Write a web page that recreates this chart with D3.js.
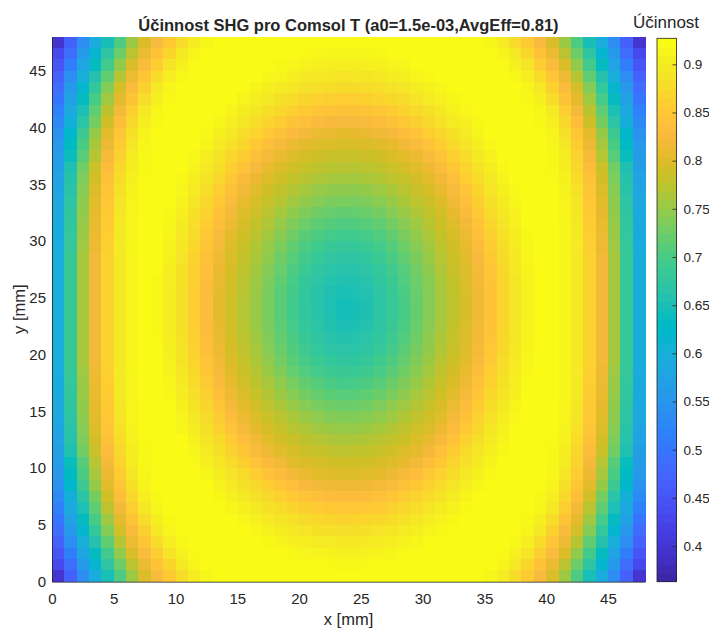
<!DOCTYPE html>
<html><head><meta charset="utf-8">
<script src="https://cdn.jsdelivr.net/npm/d3@7"></script>
<style>body{margin:0;background:#fff}svg text{font-family:'Liberation Sans',Arial,Helvetica,sans-serif;fill:#262626}</style>
</head><body>
<svg id="chart" width="709" height="630"></svg>
<script>
// ---- data (1 mm cells) ----
const titleText = "Účinnost SHG pro Comsol T (a0=1.5e-03,AvgEff=0.81)";
const xLabel = "x [mm]";
const yLabel = "y [mm]";
const cbLabel = "Účinnost";
const xCenters = [0.5,1.5,2.5,3.5,4.5,5.5,6.5,7.5,8.5,9.5,10.5,11.5,12.5,13.5,14.5,15.5,16.5,17.5,18.5,19.5,20.5,21.5,22.5,23.5,24.5,25.5,26.5,27.5,28.5,29.5,30.5,31.5,32.5,33.5,34.5,35.5,36.5,37.5,38.5,39.5,40.5,41.5,42.5,43.5,44.5,45.5,46.5,47.5];
const yCenters = [47.5,46.5,45.5,44.5,43.5,42.5,41.5,40.5,39.5,38.5,37.5,36.5,35.5,34.5,33.5,32.5,31.5,30.5,29.5,28.5,27.5,26.5,25.5,24.5,23.5,22.5,21.5,20.5,19.5,18.5,17.5,16.5,15.5,14.5,13.5,12.5,11.5,10.5,9.5,8.5,7.5,6.5,5.5,4.5,3.5,2.5,1.5,0.5];
const cellSize = 1;
const effRows = [
[.395,.467,.535,.594,.649,.705,.756,.801,.83,.857,.883,.905,.92,.925, .925,.925,.925,.925,.925,.925,.925,.925,.925,.925,.925,.925,.925,.925,.925,.925,.925,.925,.925,.925, .925,.92,.905,.883,.857,.83,.801,.756,.705,.649,.594,.535,.467,.395],
[.428,.487,.558,.614,.672,.727,.776,.815,.846,.873,.90,.917,.925,.925, .925,.925,.925,.925,.925,.925,.924,.921,.920,.919,.919,.920,.922,.925,.925,.925,.925,.925,.925,.925, .925,.925,.917,.90,.873,.846,.815,.776,.727,.672,.614,.558,.487,.428],
[.448,.509,.578,.636,.696,.75,.80,.832,.863,.892,.912,.924,.925,.925, .925,.925,.925,.925,.923,.918,.914,.910,.908,.907,.907,.909,.911,.915,.920,.925,.925,.925,.925,.925, .925,.925,.924,.912,.892,.863,.832,.80,.75,.696,.636,.578,.509,.448],
[.468,.534,.598,.659,.719,.773,.817,.851,.882,.907,.922,.925,.925,.925, .925,.925,.925,.919,.915,.907,.902,.898,.895,.894,.895,.896,.900,.904,.909,.915,.922,.925,.925,.925, .925,.925,.925,.922,.907,.882,.851,.817,.773,.719,.659,.598,.534,.468],
[.484,.555,.617,.68,.74,.794,.832,.867,.899,.918,.925,.925,.925,.925, .925,.925,.917,.909,.901,.895,.889,.885,.882,.881,.881,.883,.886,.891,.897,.904,.912,.920,.925,.925, .925,.925,.925,.925,.918,.899,.867,.832,.794,.74,.68,.617,.555,.484],
[.497,.571,.635,.70,.758,.81,.848,.883,.909,.923,.925,.925,.925,.925, .925,.916,.906,.898,.889,.882,.874,.868,.864,.863,.863,.866,.871,.877,.884,.892,.901,.910,.920,.925, .925,.925,.925,.925,.923,.909,.883,.848,.81,.758,.70,.635,.571,.497],
[.514,.587,.652,.717,.776,.823,.863,.898,.919,.925,.925,.925,.925,.925, .916,.906,.896,.885,.875,.865,.857,.851,.846,.844,.845,.848,.853,.860,.869,.880,.889,.900,.910,.921, .925,.925,.925,.925,.925,.919,.898,.863,.823,.776,.717,.652,.587,.514],
[.529,.601,.667,.732,.791,.837,.877,.907,.922,.925,.925,.925,.925,.919, .907,.896,.884,.871,.859,.848,.839,.833,.828,.827,.827,.830,.835,.842,.852,.864,.877,.889,.901,.912, .923,.925,.925,.925,.925,.922,.907,.877,.837,.791,.732,.667,.601,.529],
[.543,.621,.691,.752,.807,.849,.887,.915,.925,.925,.925,.925,.923,.911, .898,.885,.871,.856,.842,.831,.823,.817,.813,.811,.812,.814,.819,.826,.835,.848,.861,.877,.890,.903, .916,.925,.925,.925,.925,.925,.915,.887,.849,.807,.752,.691,.621,.543],
[.553,.63,.703,.763,.816,.859,.897,.92,.925,.925,.925,.925,.916,.902, .888,.873,.856,.840,.827,.817,.809,.803,.799,.798,.798,.801,.805,.812,.820,.832,.846,.862,.880,.894, .907,.921,.925,.925,.925,.925,.92,.897,.859,.816,.763,.703,.63,.553],
[.561,.64,.713,.773,.825,.868,.903,.922,.925,.925,.925,.921,.908,.893, .878,.859,.841,.826,.813,.803,.796,.791,.787,.786,.786,.789,.793,.799,.807,.818,.832,.848,.867,.884, .900,.914,.925,.925,.925,.925,.922,.903,.868,.825,.773,.713,.64,.561],
[.568,.654,.73,.788,.836,.876,.906,.923,.925,.925,.925,.915,.901,.885, .866,.846,.828,.813,.801,.792,.785,.779,.775,.774,.774,.777,.781,.788,.796,.806,.818,.835,.854,.874, .891,.906,.921,.925,.925,.925,.923,.906,.876,.836,.788,.73,.654,.568],
[.575,.661,.737,.795,.843,.883,.91,.924,.925,.925,.923,.908,.893,.875, .854,.833,.816,.802,.791,.782,.774,.767,.763,.761,.761,.764,.770,.777,.785,.795,.807,.822,.841,.862, .883,.899,.915,.925,.925,.925,.924,.91,.883,.843,.795,.737,.661,.575],
[.579,.665,.742,.801,.849,.887,.913,.925,.925,.925,.918,.902,.885,.864, .842,.822,.806,.793,.781,.771,.762,.754,.750,.747,.748,.751,.757,.765,.775,.786,.798,.812,.830,.851, .873,.892,.909,.923,.925,.925,.925,.913,.887,.849,.801,.742,.665,.579],
[.584,.67,.747,.806,.853,.892,.916,.925,.925,.925,.913,.896,.878,.855, .832,.813,.797,.784,.772,.760,.750,.742,.736,.734,.734,.738,.745,.754,.765,.777,.789,.803,.820,.841, .864,.886,.903,.919,.925,.925,.925,.916,.892,.853,.806,.747,.67,.584],
[.587,.674,.75,.81,.857,.895,.917,.925,.925,.923,.908,.890,.869,.845, .823,.804,.790,.776,.762,.749,.738,.729,.723,.720,.721,.725,.732,.742,.754,.768,.781,.795,.812,.831, .855,.879,.898,.914,.925,.925,.925,.917,.895,.857,.81,.75,.674,.587],
[.59,.677,.753,.813,.86,.898,.918,.925,.925,.920,.903,.885,.862,.837, .815,.798,.782,.768,.753,.739,.727,.716,.710,.707,.708,.712,.720,.731,.744,.758,.774,.789,.804,.823, .847,.872,.892,.910,.925,.925,.925,.918,.898,.86,.813,.753,.677,.59],
[.592,.679,.755,.815,.862,.90,.918,.925,.925,.917,.899,.880,.855,.830, .809,.792,.776,.760,.744,.729,.715,.705,.698,.694,.695,.700,.709,.720,.735,.750,.767,.782,.798,.817, .840,.865,.888,.906,.922,.925,.925,.918,.90,.862,.815,.755,.679,.592],
[.594,.682,.758,.818,.865,.902,.919,.925,.925,.913,.895,.875,.849,.824, .803,.787,.770,.753,.736,.720,.705,.694,.686,.683,.683,.689,.698,.711,.726,.742,.760,.777,.793,.811, .833,.859,.884,.903,.920,.925,.925,.919,.902,.865,.818,.758,.682,.594],
[.595,.685,.763,.823,.868,.90,.918,.925,.925,.911,.892,.870,.844,.819, .799,.782,.765,.747,.729,.712,.697,.685,.676,.672,.673,.679,.689,.702,.718,.736,.754,.772,.789,.807, .828,.854,.881,.900,.918,.925,.925,.918,.90,.868,.823,.763,.685,.595],
[.595,.685,.763,.823,.868,.90,.918,.925,.925,.908,.890,.866,.840,.816, .796,.779,.760,.741,.723,.705,.690,.676,.667,.663,.664,.670,.681,.695,.712,.730,.749,.768,.786,.803, .824,.851,.877,.898,.916,.925,.925,.918,.90,.868,.823,.763,.685,.595],
[.595,.685,.763,.823,.868,.90,.918,.925,.923,.907,.888,.864,.837,.813, .794,.776,.757,.737,.718,.700,.683,.670,.660,.656,.657,.663,.675,.690,.709,.726,.745,.765,.783,.801, .822,.847,.874,.896,.914,.925,.925,.918,.90,.868,.823,.763,.685,.595],
[.595,.685,.763,.823,.868,.90,.918,.925,.923,.906,.886,.862,.835,.811, .792,.774,.755,.735,.715,.697,.680,.665,.655,.650,.652,.658,.671,.686,.704,.723,.743,.763,.781,.799, .820,.846,.873,.894,.913,.925,.925,.918,.90,.868,.823,.763,.685,.595],
[.595,.685,.763,.823,.868,.90,.918,.925,.922,.905,.886,.861,.834,.810, .791,.773,.754,.734,.714,.695,.678,.664,.653,.646,.648,.654,.669,.684,.702,.722,.742,.762,.780,.798, .819,.845,.872,.894,.913,.925,.925,.918,.90,.868,.823,.763,.685,.595],
[.595,.685,.763,.823,.868,.90,.918,.925,.922,.905,.886,.861,.834,.810, .791,.773,.754,.734,.714,.695,.678,.664,.654,.647,.649,.655,.669,.684,.702,.722,.742,.762,.780,.798, .819,.845,.872,.894,.913,.925,.925,.918,.90,.868,.823,.763,.685,.595],
[.595,.685,.763,.823,.868,.90,.918,.925,.923,.906,.887,.862,.835,.812, .792,.775,.755,.736,.716,.698,.681,.667,.657,.652,.653,.661,.672,.687,.705,.724,.744,.763,.782,.800, .821,.846,.873,.895,.913,.925,.925,.918,.90,.868,.823,.763,.685,.595],
[.595,.685,.763,.823,.868,.90,.918,.925,.924,.907,.888,.864,.838,.814, .794,.777,.758,.739,.720,.702,.686,.672,.663,.658,.660,.666,.677,.692,.709,.728,.747,.766,.784,.802, .823,.848,.875,.896,.915,.925,.925,.918,.90,.868,.823,.763,.685,.595],
[.595,.685,.763,.823,.868,.90,.918,.925,.925,.909,.891,.868,.841,.817, .797,.780,.762,.743,.725,.708,.692,.679,.670,.666,.667,.673,.684,.698,.714,.732,.751,.770,.787,.804, .826,.852,.878,.898,.916,.925,.925,.918,.90,.868,.823,.763,.685,.595],
[.595,.685,.763,.823,.868,.90,.918,.925,.925,.912,.893,.872,.846,.821, .801,.784,.767,.749,.731,.715,.700,.689,.680,.676,.677,.683,.693,.706,.721,.738,.756,.774,.791,.808, .830,.856,.882,.901,.919,.925,.925,.918,.90,.868,.823,.763,.685,.595],
[.594,.682,.758,.818,.865,.902,.919,.925,.925,.914,.897,.877,.851,.826, .805,.789,.772,.755,.739,.721,.709,.698,.691,.687,.688,.693,.702,.714,.729,.745,.762,.779,.795,.813, .836,.861,.885,.904,.921,.925,.925,.919,.902,.865,.818,.758,.682,.594],
[.592,.679,.755,.815,.862,.90,.918,.925,.925,.918,.901,.882,.858,.833, .811,.794,.778,.763,.747,.733,.720,.710,.702,.699,.700,.705,.713,.725,.738,.753,.770,.785,.800,.819, .842,.868,.890,.908,.924,.925,.925,.918,.90,.862,.815,.755,.679,.592],
[.59,.677,.753,.813,.86,.898,.918,.925,.925,.921,.905,.887,.865,.840, .818,.800,.785,.771,.756,.743,.731,.722,.715,.712,.713,.717,.725,.735,.748,.762,.777,.791,.807,.826, .850,.875,.894,.912,.925,.925,.925,.918,.898,.86,.813,.753,.677,.59],
[.587,.674,.75,.81,.857,.895,.917,.925,.925,.925,.910,.893,.873,.849, .826,.808,.793,.779,.766,.754,.743,.734,.729,.725,.726,.730,.737,.747,.758,.771,.784,.798,.815,.835, .859,.882,.900,.916,.925,.925,.925,.917,.895,.857,.81,.75,.674,.587],
[.584,.67,.747,.806,.853,.892,.916,.925,.925,.925,.915,.899,.881,.859, .836,.817,.801,.788,.776,.765,.755,.747,.741,.739,.740,.743,.750,.758,.769,.780,.793,.806,.824,.845, .868,.888,.905,.921,.925,.925,.925,.916,.892,.853,.806,.747,.67,.584],
[.579,.665,.742,.801,.849,.887,.913,.925,.925,.925,.920,.905,.888,.869, .847,.826,.810,.796,.785,.775,.767,.759,.755,.753,.753,.756,.762,.770,.779,.790,.801,.816,.834,.856, .878,.895,.911,.925,.925,.925,.925,.913,.887,.849,.801,.742,.665,.579],
[.575,.661,.737,.795,.843,.883,.91,.924,.925,.925,.925,.911,.896,.880, .858,.838,.821,.806,.795,.786,.778,.772,.768,.766,.767,.770,.774,.781,.789,.799,.812,.827,.846,.867, .886,.902,.917,.925,.925,.925,.924,.91,.883,.843,.795,.737,.661,.575],
[.568,.654,.73,.788,.836,.876,.906,.923,.925,.925,.925,.918,.903,.888, .870,.851,.833,.818,.806,.797,.789,.784,.780,.778,.779,.781,.786,.792,.800,.810,.823,.840,.859,.879, .894,.909,.923,.925,.925,.925,.923,.906,.876,.836,.788,.73,.654,.568],
[.561,.64,.713,.773,.825,.868,.903,.922,.925,.925,.925,.924,.911,.897, .882,.864,.847,.831,.819,.808,.801,.796,.792,.791,.791,.793,.797,.803,.812,.823,.837,.854,.872,.888, .903,.917,.925,.925,.925,.925,.922,.903,.868,.825,.773,.713,.64,.561],
[.553,.63,.703,.763,.816,.859,.897,.92,.925,.925,.925,.925,.919,.906, .892,.879,.862,.846,.833,.822,.814,.808,.804,.803,.803,.806,.810,.817,.826,.838,.853,.868,.884,.898, .911,.923,.925,.925,.925,.925,.92,.897,.859,.816,.763,.703,.63,.553],
[.543,.621,.691,.752,.807,.849,.887,.915,.925,.925,.925,.925,.925,.914, .902,.889,.877,.862,.849,.838,.829,.823,.819,.817,.818,.820,.825,.832,.842,.854,.868,.882,.894,.907, .919,.925,.925,.925,.925,.925,.915,.887,.849,.807,.752,.691,.621,.543],
[.529,.601,.667,.732,.791,.837,.877,.907,.922,.925,.925,.925,.925,.922, .911,.900,.889,.878,.865,.855,.846,.840,.835,.834,.834,.837,.842,.849,.859,.870,.882,.893,.904,.916, .925,.925,.925,.925,.925,.922,.907,.877,.837,.791,.732,.667,.601,.529],
[.514,.587,.652,.717,.776,.823,.863,.898,.919,.925,.925,.925,.925,.925, .920,.910,.900,.890,.882,.872,.864,.858,.854,.852,.852,.855,.860,.867,.876,.885,.894,.904,.914,.924, .925,.925,.925,.925,.925,.919,.898,.863,.823,.776,.717,.652,.587,.514],
[.497,.571,.635,.70,.758,.81,.848,.883,.909,.923,.925,.925,.925,.925, .925,.920,.911,.902,.894,.887,.881,.876,.872,.870,.871,.873,.878,.883,.890,.897,.905,.914,.923,.925, .925,.925,.925,.925,.923,.909,.883,.848,.81,.758,.70,.635,.571,.497],
[.484,.555,.617,.68,.74,.794,.832,.867,.899,.918,.925,.925,.925,.925, .925,.925,.921,.913,.906,.900,.894,.890,.887,.886,.886,.888,.892,.896,.902,.909,.916,.923,.925,.925, .925,.925,.925,.925,.918,.899,.867,.832,.794,.74,.68,.617,.555,.484],
[.468,.534,.598,.659,.719,.773,.817,.851,.882,.907,.922,.925,.925,.925, .925,.925,.925,.923,.917,.911,.907,.903,.901,.900,.900,.902,.904,.908,.913,.920,.925,.925,.925,.925, .925,.925,.925,.922,.907,.882,.851,.817,.773,.719,.659,.598,.534,.468],
[.448,.509,.578,.636,.696,.75,.80,.832,.863,.892,.912,.924,.925,.925, .925,.925,.925,.925,.925,.922,.918,.915,.913,.912,.912,.914,.916,.920,.924,.925,.925,.925,.925,.925, .925,.925,.924,.912,.892,.863,.832,.80,.75,.696,.636,.578,.509,.448],
[.428,.487,.558,.614,.672,.727,.776,.815,.846,.873,.90,.917,.925,.925, .925,.925,.925,.925,.925,.925,.925,.925,.924,.923,.923,.924,.925,.925,.925,.925,.925,.925,.925,.925, .925,.925,.917,.90,.873,.846,.815,.776,.727,.672,.614,.558,.487,.428],
[.395,.467,.535,.594,.649,.705,.756,.801,.83,.857,.883,.905,.92,.925, .925,.925,.925,.925,.925,.925,.925,.925,.925,.925,.925,.925,.925,.925,.925,.925,.925,.925,.925,.925, .925,.92,.905,.883,.857,.83,.801,.756,.705,.649,.594,.535,.467,.395]
];
const xTicks = [0,5,10,15,20,25,30,35,40,45];
const yTicks = [0,5,10,15,20,25,30,35,40,45];
const cbTicks = [0.4,0.45,0.5,0.55,0.6,0.65,0.7,0.75,0.8,0.85,0.9];
const cbLabels = ["0.4","0.45","0.5","0.55","0.6","0.65","0.7","0.75","0.8","0.85","0.9"];
const cLimits = [0.363, 0.927];
const axisRange = [0, 48];

// parula colormap (style)
const parula = [[0.2422,0.1504,0.6603],[0.2504,0.165,0.7076],[0.2578,0.1818,0.7511],[0.2647,0.1978,0.7952],[0.2706,0.2147,0.8364],[0.2751,0.2342,0.871],[0.2783,0.2559,0.8991],[0.2803,0.2782,0.9221],[0.2813,0.3006,0.9414],[0.281,0.3228,0.9579],[0.2795,0.3447,0.9717],[0.276,0.3667,0.9829],[0.2699,0.3892,0.9906],[0.2602,0.4123,0.9952],[0.244,0.4358,0.9988],[0.2206,0.4603,0.9973],[0.1963,0.4847,0.9892],[0.1834,0.5074,0.9798],[0.1786,0.5289,0.9682],[0.1764,0.5499,0.952],[0.1687,0.5703,0.9359],[0.154,0.5902,0.9218],[0.146,0.6091,0.9079],[0.138,0.6276,0.8973],[0.1248,0.6459,0.8883],[0.1113,0.6635,0.8763],[0.0952,0.6798,0.8598],[0.0689,0.6948,0.8394],[0.0297,0.7082,0.8163],[0.0036,0.7203,0.7917],[0.0067,0.7312,0.766],[0.0433,0.7411,0.7394],[0.0964,0.75,0.712],[0.1408,0.7584,0.6842],[0.1717,0.767,0.6554],[0.1938,0.7758,0.6251],[0.2161,0.7843,0.5923],[0.247,0.7918,0.5567],[0.2906,0.7973,0.5188],[0.3406,0.8008,0.4789],[0.3909,0.8029,0.4354],[0.4456,0.8024,0.3909],[0.5044,0.7993,0.348],[0.5616,0.7942,0.3045],[0.6174,0.7876,0.2612],[0.672,0.7793,0.2227],[0.7242,0.7698,0.191],[0.7738,0.7598,0.1646],[0.8203,0.7498,0.1535],[0.8634,0.7406,0.1596],[0.9035,0.733,0.1774],[0.9393,0.7288,0.21],[0.9728,0.7298,0.2394],[0.9956,0.7434,0.2371],[0.997,0.7659,0.2199],[0.9952,0.7893,0.2028],[0.9892,0.8136,0.1885],[0.9804,0.8384,0.1773],[0.9676,0.8639,0.1649],[0.961,0.889,0.1537],[0.9597,0.9135,0.1423],[0.9628,0.9373,0.1265],[0.9691,0.9606,0.1064],[0.9769,0.9839,0.0805]]
  .map(c => d3.rgb(c[0]*255, c[1]*255, c[2]*255).formatHex());

// ---- layout ----
const svg = d3.select("#chart");
const L = 52, R = 645, T = 36.7, B = 581.7;
const x = d3.scaleLinear().domain(axisRange).range([L, R]);
const y = d3.scaleLinear().domain(axisRange).range([B, T]);
const nC = parula.length;
const color = d3.scaleLinear()
  .domain(d3.range(nC).map(i => cLimits[0] + i * (cLimits[1] - cLimits[0]) / (nC - 1)))
  .range(parula).clamp(true);

// heatmap cells
const cells = [];
effRows.forEach((row, ri) => row.forEach((v, ci) => cells.push({xc: xCenters[ci], yc: yCenters[ri], v})));
svg.append("g").attr("shape-rendering", "crispEdges")
  .selectAll("rect").data(cells).join("rect")
  .attr("x", d => x(d.xc - cellSize / 2))
  .attr("y", d => y(d.yc + cellSize / 2))
  .attr("width", d => x(d.xc + cellSize / 2) - x(d.xc - cellSize / 2) + 0.5)
  .attr("height", d => y(d.yc - cellSize / 2) - y(d.yc + cellSize / 2) + 0.5)
  .attr("fill", d => color(d.v));

// axes
const ax = svg.append("g").attr("transform", `translate(0,${B})`)
  .call(d3.axisBottom(x).tickValues(xTicks).tickSize(0).tickPadding(12));
ax.select(".domain").attr("stroke", "#262626").attr("stroke-width", 0.8);
ax.selectAll("text").style("font-size", "15px").attr("fill", "#262626");
const ay = svg.append("g").attr("transform", `translate(${L},0)`)
  .call(d3.axisLeft(y).tickValues(yTicks).tickSize(0).tickPadding(6));
ay.select(".domain").attr("stroke", "#262626").attr("stroke-width", 0.8);
ay.selectAll("text").style("font-size", "15px").attr("fill", "#262626");

// labels
svg.append("text").attr("x", (L + R) / 2).attr("y", 30.5).attr("text-anchor", "middle")
  .style("font-size", "16.5px").style("font-weight", "bold").text(titleText);
svg.append("text").attr("x", (L + R) / 2).attr("y", 625).attr("text-anchor", "middle")
  .style("font-size", "16.5px").text(xLabel);
svg.append("text").attr("transform", `translate(25,${(T + B) / 2}) rotate(-90)`).attr("text-anchor", "middle")
  .style("font-size", "16.5px").text(yLabel);

// colorbar
const cbL = 657, cbW = 19.5, cbT = 38.3, cbB = 581.7;
const cy = d3.scaleLinear().domain(cLimits).range([cbB, cbT]);
const step = (cLimits[1] - cLimits[0]) / nC;
svg.append("g").attr("shape-rendering", "crispEdges").selectAll("rect").data(parula).join("rect")
  .attr("x", cbL).attr("width", cbW)
  .attr("y", (c, i) => cy(cLimits[0] + (i + 1) * step))
  .attr("height", (c, i) => cy(cLimits[0] + i * step) - cy(cLimits[0] + (i + 1) * step) + 0.5)
  .attr("fill", c => c);
svg.append("rect").attr("x", cbL).attr("y", cbT).attr("width", cbW).attr("height", cbB - cbT)
  .attr("fill", "none").attr("stroke", "#262626").attr("stroke-width", 0.8);
const cax = svg.append("g").attr("transform", `translate(${cbL + cbW},0)`)
  .call(d3.axisRight(cy).tickValues(cbTicks).tickFormat((d, i) => cbLabels[i]).tickSizeInner(-4).tickSizeOuter(0).tickPadding(7));
cax.select(".domain").remove();
cax.selectAll("line").attr("stroke", "#262626").attr("stroke-width", 0.8);
cax.selectAll("text").style("font-size", "13.5px").attr("fill", "#262626");
svg.append("text").attr("x", 666).attr("y", 28).attr("text-anchor", "middle")
  .style("font-size", "17px").text(cbLabel);
</script>
</body></html>
